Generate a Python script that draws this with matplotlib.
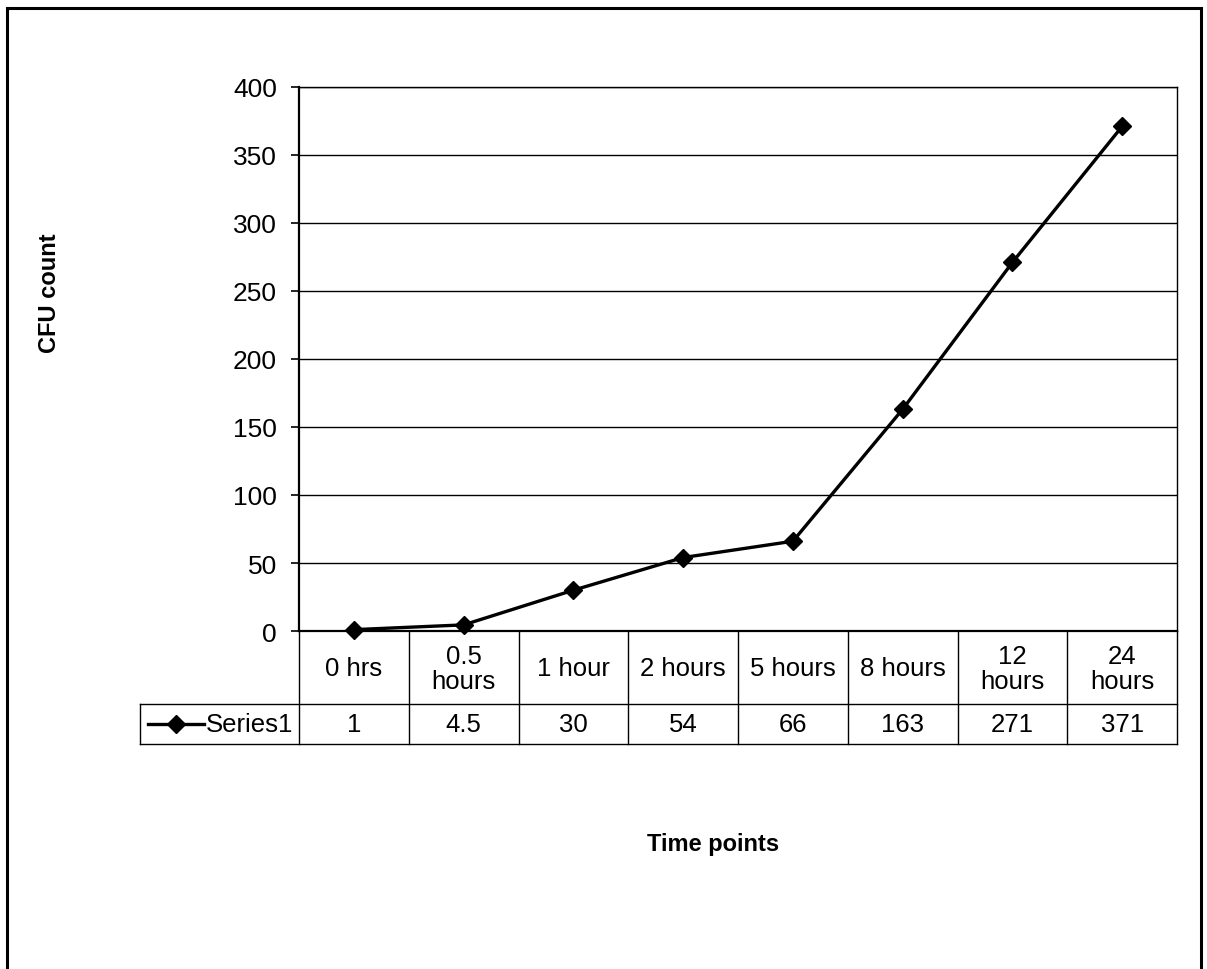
import matplotlib
matplotlib.use("Agg")
import matplotlib.pyplot as plt
from matplotlib.lines import Line2D
from matplotlib.patches import Rectangle
import matplotlib.transforms as mtransforms

plt.rcParams['font.family'] = ['Liberation Sans', 'DejaVu Sans']

# Data
time_points = ["0 hrs", "0.5\nhours", "1 hour", "2 hours", "5 hours",
               "8 hours", "12\nhours", "24\nhours"]
cfu_counts = [1, 4.5, 30, 54, 66, 163, 271, 371]
series_name = "Series1"
y_ticks = [0, 50, 100, 150, 200, 250, 300, 350, 400]

W, H = 1207, 970
fig = plt.figure(figsize=(W / 100, H / 100), dpi=100)

def px_rect(x0, y0, x1, y1):
    """Figure-fraction rect from pixel coords (origin top-left)."""
    return [x0 / W, 1 - y1 / H, (x1 - x0) / W, (y1 - y0) / H]

# Outer chart border
fig.add_artist(Rectangle((7 / W, -0.01), (1201 - 7) / W, 1.01 - 8.5 / H,
                         transform=fig.transFigure, fill=False,
                         edgecolor="black", linewidth=2.2))

left, right, top, bottom = 299, 1177, 88, 632
ax = fig.add_axes(px_rect(left, top, right, bottom))
n = len(cfu_counts)
xs = list(range(n))
ax.set_xlim(-0.5, n - 0.5)
ax.set_ylim(0, 400)
ax.set_yticks(y_ticks)
ax.set_yticklabels([str(v) for v in y_ticks], fontsize=19)
ax.set_xticks([])
ax.tick_params(axis='y', direction='out', length=6, width=1.2, pad=10)
ax.yaxis.grid(True, color="black", linewidth=1.0)
ax.set_axisbelow(True)
for s in ax.spines.values():
    s.set_color("black")
ax.spines['left'].set_linewidth(1.6)
ax.spines['bottom'].set_linewidth(1.6)
ax.spines['top'].set_linewidth(1.0)
ax.spines['right'].set_linewidth(1.0)

ax.plot(xs, cfu_counts, color="black", linewidth=2.4, marker="D",
        markersize=9.5, markerfacecolor="black", markeredgecolor="black",
        clip_on=False, zorder=5)

# Data table below the plot
trans = mtransforms.blended_transform_factory(ax.transData, fig.transFigure)
fy = lambda y: 1 - y / H
row_top, row_mid, row_bot = bottom, 705, 745
table_left_px = 140
fs_table = 18.5

lw = 1.0
fig.add_artist(Line2D([table_left_px / W, right / W], [fy(row_mid), fy(row_mid)],
                      transform=fig.transFigure, color="black", lw=lw))
fig.add_artist(Line2D([table_left_px / W, right / W], [fy(row_bot), fy(row_bot)],
                      transform=fig.transFigure, color="black", lw=lw))
fig.add_artist(Line2D([table_left_px / W, table_left_px / W],
                      [fy(row_mid), fy(row_bot)],
                      transform=fig.transFigure, color="black", lw=lw))
for i in range(n + 1):
    fig.add_artist(Line2D([i - 0.5, i - 0.5], [fy(row_top), fy(row_bot)],
                          transform=trans, color="black", lw=lw))

for i, (lab, val) in enumerate(zip(time_points, cfu_counts)):
    fig.text(i, fy((row_top + row_mid) / 2 + 1), lab, transform=trans,
             ha="center", va="center", fontsize=fs_table, linespacing=1.05)
    fig.text(i, fy((row_mid + row_bot) / 2), f"{val:g}", transform=trans,
             ha="center", va="center", fontsize=fs_table)

# Legend key inside the table
ky = fy((row_mid + row_bot) / 2)
fig.add_artist(Line2D([148 / W, 204 / W], [ky, ky], transform=fig.transFigure,
                      color="black", lw=2.4))
fig.add_artist(Line2D([176 / W], [ky], transform=fig.transFigure,
                      color="black", marker="D", markersize=9.5,
                      linestyle="none"))
fig.text(206 / W, ky, series_name, ha="left", va="center", fontsize=fs_table)

# Axis titles
fig.text(50 / W, fy(293), "CFU count", rotation=90, ha="center", va="center",
         fontsize=17, fontweight="bold")
fig.text(713 / W, fy(845), "Time points", ha="center", va="center",
         fontsize=17, fontweight="bold")

fig.savefig("out.png", dpi=100, facecolor="white")
